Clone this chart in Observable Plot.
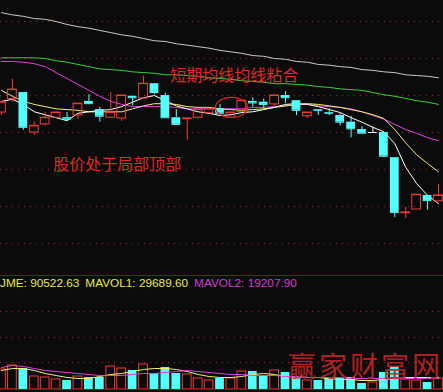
<!DOCTYPE html>
<html><head><meta charset="utf-8">
<script src="https://cdn.jsdelivr.net/npm/d3@7"></script>
<script src="https://cdn.jsdelivr.net/npm/@observablehq/plot@0.6"></script>
<style>
html,body{margin:0;padding:0;background:#0b0b0b;}
#wrap{position:relative;width:443px;height:392px;overflow:hidden;background:#0b0b0b;font-family:"Liberation Sans",Arial,sans-serif;}
#main{position:absolute;left:0;top:0;}
#sep{position:absolute;left:0;top:275px;width:443px;height:1px;background:#8b1010;}
#stats{position:absolute;left:0;top:277px;font-size:11.8px;line-height:12px;white-space:nowrap;}
#stats span{margin-right:6px;}
#vol{position:absolute;left:0;top:293px;}
#wm{position:absolute;left:288px;top:351px;font-family:"Noto Sans CJK SC";font-size:28px;line-height:28px;color:#c02424;opacity:0.9;letter-spacing:3px;white-space:nowrap;}
</style></head>
<body>
<div id="wrap">
  <div id="main"></div>
  <div id="sep"></div>
  <div id="stats"></div>
  <div id="vol"></div>
  <div id="wm">赢家财富网</div>
</div>
<script>
// ---- data (index = trading day, prices in yuan) ----
const opens  = [10.77,10.95,11.04,10.50,10.61,10.70,10.70,10.73,10.92,10.81,10.70,10.69,10.99,10.96,11.16,11.00,10.70,10.68,10.70,10.76,10.82,10.70,10.78,10.92,10.91,10.88,11.00,10.93,10.72,10.81,10.77,10.73,10.64,10.54,10.50,10.50,10.16,9.41,9.46,9.65,9.57];
const closes = [10.91,11.08,10.57,10.59,10.70,10.77,10.68,10.89,10.89,10.72,10.77,11.00,10.97,11.16,11.04,10.70,10.61,10.69,10.81,10.82,10.76,10.77,10.93,10.90,10.88,11.00,10.97,10.80,10.77,10.80,10.76,10.64,10.55,10.49,10.50,10.18,9.42,9.42,9.66,9.58,9.65];
const highs  = [10.91,11.22,11.04,10.64,10.77,10.78,10.77,10.89,11.01,10.84,11.04,11.00,10.99,11.26,11.16,11.03,10.81,10.69,10.81,10.82,10.88,10.77,10.93,10.97,10.95,11.00,11.05,10.93,10.77,10.81,10.82,10.76,10.72,10.58,10.57,10.50,10.16,9.49,9.66,9.65,9.80];
const lows   = [10.73,10.91,10.53,10.46,10.59,10.69,10.65,10.68,10.88,10.64,10.69,10.65,10.86,10.96,11.01,10.70,10.61,10.39,10.68,10.76,10.76,10.70,10.78,10.84,10.82,10.84,10.89,10.73,10.69,10.73,10.73,10.59,10.43,10.49,10.49,10.16,9.35,9.34,9.46,9.45,9.57];
const ma5  = [10.92,10.95,10.88,10.78,10.74,10.70,10.66,10.76,10.78,10.80,10.81,10.85,10.91,10.97,11.00,10.93,10.86,10.82,10.78,10.76,10.73,10.74,10.77,10.78,10.81,10.84,10.88,10.89,10.88,10.85,10.81,10.77,10.70,10.64,10.57,10.51,10.35,10.03,9.81,9.65,9.54];
const ma10 = [11.07,10.99,10.92,10.88,10.85,10.82,10.81,10.80,10.78,10.78,10.78,10.78,10.82,10.86,10.89,10.89,10.88,10.85,10.84,10.84,10.82,10.81,10.80,10.81,10.82,10.84,10.86,10.88,10.89,10.88,10.86,10.84,10.81,10.78,10.74,10.69,10.54,10.36,10.20,10.08,9.97];
const ma20 = [11.46,11.46,11.45,11.43,11.39,11.31,11.23,11.15,11.07,10.99,10.92,10.88,10.85,10.85,10.85,10.85,10.84,10.82,10.82,10.82,10.82,10.82,10.82,10.84,10.84,10.85,10.86,10.88,10.88,10.86,10.85,10.84,10.82,10.78,10.73,10.68,10.61,10.54,10.49,10.43,10.39];
const ma30 = [11.51,11.51,11.51,11.51,11.50,11.47,11.45,11.42,11.39,11.36,11.35,11.34,11.32,11.31,11.30,11.28,11.28,11.27,11.26,11.24,11.23,11.22,11.20,11.19,11.18,11.16,11.16,11.15,11.14,11.12,11.11,11.09,11.08,11.07,11.04,11.01,10.99,10.96,10.93,10.91,10.88];
const ma60 = [12.12,12.09,12.07,12.04,12.03,12.00,11.96,11.93,11.91,11.88,11.85,11.82,11.80,11.77,11.74,11.73,11.70,11.68,11.66,11.64,11.61,11.59,11.57,11.54,11.53,11.50,11.49,11.46,11.45,11.42,11.41,11.39,11.38,11.35,11.34,11.32,11.31,11.28,11.27,11.26,11.24];
const volumes = [40000,48000,42000,26000,24000,20000,18000,26000,24000,24000,46000,42000,38000,50000,32000,44000,32000,30000,22000,18000,22000,22000,36000,36000,28000,38000,34000,24000,18000,18000,22000,22000,24000,12000,14000,34000,44000,20000,18000,14000,22000];
const mavol1 = [38000,42000,42000,38000,32000,28000,24000,22000,22000,26000,30000,32000,36000,40000,42000,42000,40000,36000,30000,26000,24000,24000,26000,30000,32000,30000,26000,26000,24000,24000,22000,20000,20000,18000,18000,20000,22000,24000,24000,24000,24000];
const mavol2 = [44000,48000,46000,42000,38000,36000,34000,32000,30000,28000,28000,28000,30000,32000,32000,34000,36000,38000,36000,34000,32000,30000,30000,28000,28000,28000,26000,26000,24000,24000,24000,24000,22000,22000,22000,22000,22000,22000,22000,22000,22000];
const priceGrid = [12.0, 11.5, 11.0, 10.5, 10.0, 9.5, 9.0];
const volGrid = [54000, 104000, 156000];
const statLabels = ["JME", "MAVOL1", "MAVOL2"];
const statValues = [90522.63, 29689.60, 19207.90];
const notes = [
  {text: "短期均线均线粘合", day: 21.3, price: 11.26},
  {text: "股价处于局部顶部", day: 10.6, price: 10.06}
];
const ring = [{day: 21.05, price: 10.84}];

// ---- styles ----
const RED = "#f03c3c", CYAN = "#54ffff", WHITE = "#ffffff", YELLOW = "#f0f070",
      MAGENTA = "#e040e0", GREEN = "#3cd03c", GRAY = "#c8c8c8", GRID = "#a82828",
      NOTE = "#e02828";

const candles = opens.map((o, i) => ({i, o, c: closes[i], h: highs[i], l: lows[i], v: volumes[i]}));
const colorOf = d => d.c > d.o ? RED : d.c < d.o ? CYAN : WHITE;
const maLine = (arr, stroke) => Plot.line(arr, {x: (d, i) => i, y: d => d, stroke, strokeWidth: 1});
const xScale = {domain: [-0.0915, 40.458], axis: null};
const bx1 = d => d.i - 0.4, bx2 = d => d.i + 0.4;

const main = Plot.plot({
  width: 443, height: 275,
  marginTop: 0, marginRight: 0, marginBottom: 0, marginLeft: 0,
  style: {background: "transparent"},
  x: xScale,
  y: {domain: [8.568, 12.284], axis: null},
  marks: [
    Plot.ruleY(priceGrid, {stroke: GRID, strokeDasharray: "1,5"}),
    maLine(ma60, GRAY), maLine(ma30, GREEN), maLine(ma20, MAGENTA), maLine(ma10, YELLOW), maLine(ma5, WHITE),
    Plot.ruleX(candles, {x: "i", y1: "l", y2: d => Math.min(d.o, d.c), stroke: colorOf}),
    Plot.ruleX(candles, {x: "i", y1: d => Math.max(d.o, d.c), y2: "h", stroke: colorOf}),
    Plot.rect(candles, {filter: d => d.c >= d.o, x1: bx1, x2: bx2, y1: "o", y2: "c", fill: "none", stroke: colorOf}),
    Plot.rect(candles, {filter: d => d.c < d.o, x1: bx1, x2: bx2, y1: "o", y2: "c", fill: colorOf}),
    Plot.ruleY(candles, {x1: bx1, x2: bx2, y: "c", stroke: colorOf}),
    Plot.dot(ring, {x: "day", y: "price", r: 16, stroke: NOTE, strokeWidth: 1.2, fill: "none"}),
    Plot.text(notes, {x: "day", y: "price", text: "text", fill: NOTE, fontSize: 16, fontFamily: "Noto Sans CJK SC"})
  ]
});
// turn the ring (the only circle) into an ellipse
d3.select(main).selectAll("circle").each(function () {
  const c = d3.select(this);
  let cx = +c.attr("cx"), cy = +c.attr("cy");
  const t = c.attr("transform");
  if (t) {
    const m = /translate\(([-\d.]+)[ ,]+([-\d.]+)\)/.exec(t);
    if (m) { cx = (cx || 0) + +m[1]; cy = (cy || 0) + +m[2]; }
  }
  d3.select(this.parentNode).append("ellipse")
    .attr("cx", cx || 0).attr("cy", cy || 0)
    .attr("rx", 16).attr("ry", 10)
    .attr("fill", "none").attr("stroke", NOTE).attr("stroke-width", 1.2);
  c.remove();
});
document.getElementById("main").appendChild(main);

const stats = document.getElementById("stats");
statLabels.forEach((l, k) => {
  const s = document.createElement("span");
  s.textContent = `${l}: ${statValues[k].toFixed(2)}`;
  s.style.color = k === 2 ? "#d23cd2" : "#e8e84c";
  stats.appendChild(s);
});

const vol = Plot.plot({
  width: 443, height: 99,
  marginTop: 0, marginRight: 0, marginBottom: 3, marginLeft: 0,
  style: {background: "transparent"},
  x: xScale,
  y: {domain: [0, 192000], axis: null},
  marks: [
    Plot.ruleY(volGrid, {stroke: GRID, strokeDasharray: "1,5"}),
    Plot.rect(candles, {filter: d => d.c >= d.o, x1: bx1, x2: bx2, y1: d => 0, y2: "v", fill: "none", stroke: RED}),
    Plot.rect(candles, {filter: d => d.c < d.o, x1: bx1, x2: bx2, y1: d => 0, y2: "v", fill: CYAN}),
    maLine(mavol1, YELLOW), maLine(mavol2, MAGENTA),
    Plot.ruleY([0], {stroke: "#8b1010"})
  ]
});
document.getElementById("vol").appendChild(vol);
</script>
</body></html>
